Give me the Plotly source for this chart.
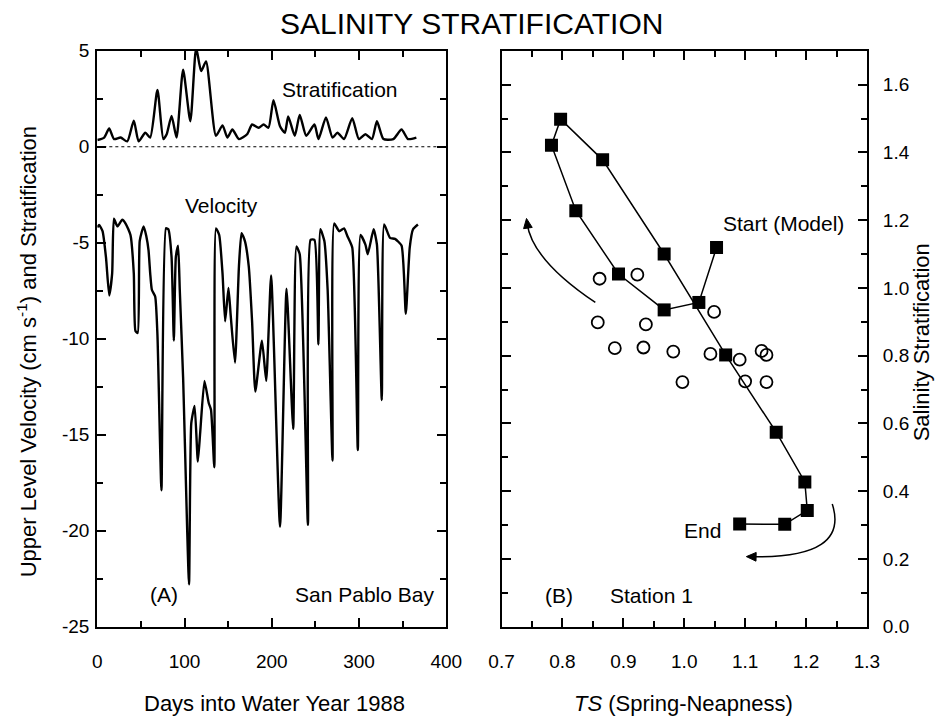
import plotly.graph_objects as go

# ---------------- Data ----------------
strat_days = [0, 7.9, 13.6, 19.2, 26.7, 34.3, 41.8, 47.4, 55.0, 60.6, 68.9, 75.7, 79.5, 85.1, 90.8,
              98.3, 106.6, 113.3, 119.0, 124.6, 136.0, 143.5, 149.1, 154.8, 162.3, 171.7, 177.4,
              184.9, 190.6, 196.2, 201.9, 209.4, 215.0, 218.8, 226.3, 232.0, 239.5, 248.9, 253.5,
              262.1, 269.6, 275.3, 282.8, 292.2, 299.8, 307.3, 314.8, 320.5, 328.0, 339.3, 348.7,
              356.2, 365.7]
strat_vals = [0.35, 0.48, 0.95, 0.40, 0.48, 0.28, 1.36, 0.28, 0.73, 0.48, 2.96, 0.40, 0.65, 1.61, 0.48,
              4.02, 1.33, 5.15, 3.94, 4.44, 0.57, 1.11, 0.48, 0.90, 0.40, 0.65, 1.16,
              0.99, 1.16, 0.99, 2.42, 1.07, 0.73, 1.58, 0.57, 1.66, 0.57, 1.16, 0.40,
              1.53, 0.48, 0.73, 0.40, 1.49, 0.40, 0.65, 0.40, 1.33, 0.40, 0.40, 0.90,
              0.40, 0.48]

vel_days = [0, 2, 6, 10, 13.6, 17, 19, 23, 28.6, 32.4, 38, 41.8, 43.7, 46.3, 48.6, 53.1, 56.1, 58.7,
            60.6, 62.5, 66.3, 68.9, 73.5, 78.7, 81.4, 85.1, 87.7, 90.0, 92.6, 94.5, 98.3, 105.1,
            107.7, 111.5, 115.2, 117.9, 122.8, 127.7, 130.3, 134.1, 136.0, 139.7, 143.5, 146.5,
            150.3, 152.9, 157.8, 162.3, 165.3, 169.1, 173.6, 177.4, 181.1, 188.7, 193.6, 199.2,
            209.4, 216.9, 224.5, 228.2, 232.0, 241.4, 244.4, 248.9, 253.4, 255.7, 260.2, 264.0,
            269.6, 271.5, 277.2, 282.8, 286.6, 292.2, 298.6, 301.7, 307.3, 310.0, 316.7, 320.5,
            326.1, 328.8, 335.5, 341.2, 348.7, 353.6, 358.1, 361.9, 367.5]
vel_vals = [-4.2, -4.07, -4.4, -5.8, -7.75, -6.6, -3.75, -4.15, -3.8, -4.0, -4.6, -6.6, -9.6, -9.7,
            -4.9, -4.15, -4.65, -5.4, -6.6, -7.45, -7.8, -9.8, -17.9, -4.25, -4.3, -5.75, -10.1,
            -5.75, -5.15, -7.45, -12.0, -22.8, -14.4, -13.5, -16.4, -14.9, -12.2, -13.35, -13.7,
            -16.7, -4.25, -4.6, -6.6, -9.1, -7.35, -8.8, -11.25, -6.25, -4.5, -4.9, -6.25, -9.1,
            -12.75, -10.1, -12.2, -6.7, -19.8, -7.4, -14.7, -5.2, -5.6, -19.7, -4.85, -4.85,
            -10.3, -4.3, -4.9, -7.45, -16.35, -4.0, -4.4, -4.25, -4.65, -5.25, -15.8, -4.6,
            -5.1, -5.6, -4.3, -5.1, -13.2, -4.05, -4.75, -4.8, -5.15, -8.7, -5.25, -4.3, -4.05]

model_ts = [1.053, 1.024, 0.967, 0.892, 0.822, 0.782, 0.797, 0.866, 0.967, 1.068, 1.151, 1.198,
            1.202, 1.165, 1.091]
model_strat = [1.119, 0.957, 0.935, 1.041, 1.228, 1.421, 1.498, 1.378, 1.100, 0.802, 0.574,
               0.427, 0.343, 0.302, 0.303]

obs_ts = [0.861, 0.923, 0.858, 0.937, 1.049, 0.886, 0.933, 0.982, 1.043, 1.091, 1.127, 1.135,
          0.997, 1.100, 1.135]
obs_strat = [1.027, 1.039, 0.898, 0.892, 0.929, 0.822, 0.824, 0.812, 0.805, 0.788, 0.814, 0.802,
             0.722, 0.724, 0.722]

left_y_tickvals = [5, 0, -5, -10, -15, -20, -25]
left_y_ticktext = ["5", "0", "-5", "-10", "-15", "-20", "-25"]

FONT = "Liberation Sans, Arial, Helvetica, sans-serif"
W, H = 945, 725

fig = go.Figure()

# Left panel
fig.add_trace(go.Scatter(x=strat_days, y=strat_vals, mode="lines",
                         line=dict(color="black", width=2.4, shape="spline", smoothing=0.6),
                         xaxis="x", yaxis="y", showlegend=False))
fig.add_trace(go.Scatter(x=vel_days, y=vel_vals, mode="lines",
                         line=dict(color="black", width=2.4, shape="spline", smoothing=0.5),
                         xaxis="x", yaxis="y", showlegend=False))
fig.add_trace(go.Scatter(x=[0, 400], y=[0, 0], mode="lines",
                         line=dict(color="black", width=1.2, dash="dot"), xaxis="x", yaxis="y",
                         showlegend=False))

# Right panel
fig.add_trace(go.Scatter(x=model_ts, y=model_strat, mode="lines+markers",
                         line=dict(color="black", width=1.5),
                         marker=dict(symbol="square", size=13, color="black"),
                         xaxis="x2", yaxis="y2", showlegend=False))
fig.add_trace(go.Scatter(x=obs_ts, y=obs_strat, mode="markers",
                         marker=dict(symbol="circle-open", size=12, color="black",
                                     line=dict(width=1.8, color="black")),
                         xaxis="x2", yaxis="y2", showlegend=False))

tickfont = dict(family=FONT, size=19, color="black")
common = dict(showline=True, linecolor="black", linewidth=2.2, mirror="ticks", ticks="inside",
              ticklen=9, tickwidth=1.8, tickcolor="black", showgrid=False, zeroline=False,
              tickfont=tickfont)
minor_common = dict(ticklen=6, ticks="inside", tickcolor="black", tickwidth=1.6)

top_px, bot_px = 42, 635
top, bottom = 1 - top_px / H, 1 - bot_px / H
fig.update_layout(
    width=W, height=H,
    margin=dict(l=0, r=0, t=0, b=0),
    paper_bgcolor="white", plot_bgcolor="white",
    xaxis=dict(domain=[87 / W, 447 / W], range=[0, 400], dtick=100, tick0=0,
               minor=dict(dtick=50, **minor_common), ticklabelstandoff=16,
               anchor="y", **common),
    yaxis=dict(domain=[bottom, top], range=[-25, 5], tickmode="array",
               tickvals=left_y_tickvals, ticktext=left_y_ticktext,
               minor=dict(dtick=2.5, tick0=0, **minor_common), ticklabelstandoff=2,
               anchor="x", **common),
    xaxis2=dict(domain=[504 / W, 881 / W], range=[0.7, 1.3], dtick=0.1, tick0=0.7,
                tickformat=".1f", minor=dict(dtick=0.05, **minor_common), ticklabelstandoff=16,
                anchor="y2", **common),
    yaxis2=dict(domain=[bottom, top], range=[0, 1.7], dtick=0.2, tick0=0, tickformat=".1f",
                side="right", minor=dict(dtick=0.1, **minor_common), ticklabelstandoff=10,
                anchor="x2", **common),
)

sfont = dict(family=FONT, size=21, color="black")
ann_font = dict(family=FONT, size=22, color="black")
annotations = [
    dict(text="SALINITY STRATIFICATION", x=473 / W, y=1 - 14 / H, xref="paper", yref="paper",
         xanchor="center", yanchor="middle", showarrow=False,
         font=dict(family=FONT, size=30, color="black")),
    dict(text="Days into Water Year 1988", x=270 / W, y=1 - 714 / H, xref="paper", yref="paper",
         xanchor="center", yanchor="middle", showarrow=False, font=ann_font),
    dict(text="<i>TS</i> (Spring-Neapness)", x=692 / W, y=1 - 714 / H, xref="paper",
         yref="paper", xanchor="center", yanchor="middle", showarrow=False, font=ann_font),
    dict(text="Upper Level Velocity (cm s<sup>-1</sup>) and Stratification", x=14 / W,
         y=1 - 352 / H, xref="paper", yref="paper", xanchor="center", yanchor="middle",
         textangle=-90, showarrow=False, font=ann_font),
    dict(text="Salinity Stratification", x=937 / W, y=1 - 342 / H, xref="paper", yref="paper",
         xanchor="center", yanchor="middle", textangle=-90, showarrow=False, font=ann_font),
    dict(text="Stratification", x=278, y=3.0, xref="x", yref="y", showarrow=False, font=sfont),
    dict(text="Velocity", x=142, y=-3.05, xref="x", yref="y", showarrow=False, font=sfont),
    dict(text="(A)", x=76, y=-23.35, xref="x", yref="y", showarrow=False, font=sfont),
    dict(text="San Pablo Bay", x=306, y=-23.35, xref="x", yref="y", showarrow=False, font=sfont),
    dict(text="(B)", x=0.795, y=0.093, xref="x2", yref="y2", showarrow=False, font=sfont),
    dict(text="Station 1", x=0.946, y=0.093, xref="x2", yref="y2", showarrow=False, font=sfont),
    dict(text="End", x=1.03, y=0.283, xref="x2", yref="y2", showarrow=False, font=sfont),
    dict(text="Start (Model)", x=1.163, y=1.19, xref="x2", yref="y2", showarrow=False,
         font=sfont),
]
fig.update_layout(annotations=annotations)

# curved arrows (shaft + filled head)
fig.add_shape(type="path", xref="x2", yref="y2",
              path="M 0.854,0.957 Q 0.751,1.081 0.742,1.19",
              line=dict(color="black", width=1.5))
fig.add_shape(type="path", xref="x2", yref="y2",
              path="M 0.741,1.205 L 0.7504,1.1785 L 0.7362,1.1748 Z",
              line=dict(color="black", width=1), fillcolor="black")
fig.add_shape(type="path", xref="x2", yref="y2",
              path="M 1.243,0.362 Q 1.272,0.201 1.112,0.2063",
              line=dict(color="black", width=1.5))
fig.add_shape(type="path", xref="x2", yref="y2",
              path="M 1.102,0.2066 L 1.1181,0.2190 L 1.1178,0.1932 Z",
              line=dict(color="black", width=1), fillcolor="black")

fig.write_html("out.html")
